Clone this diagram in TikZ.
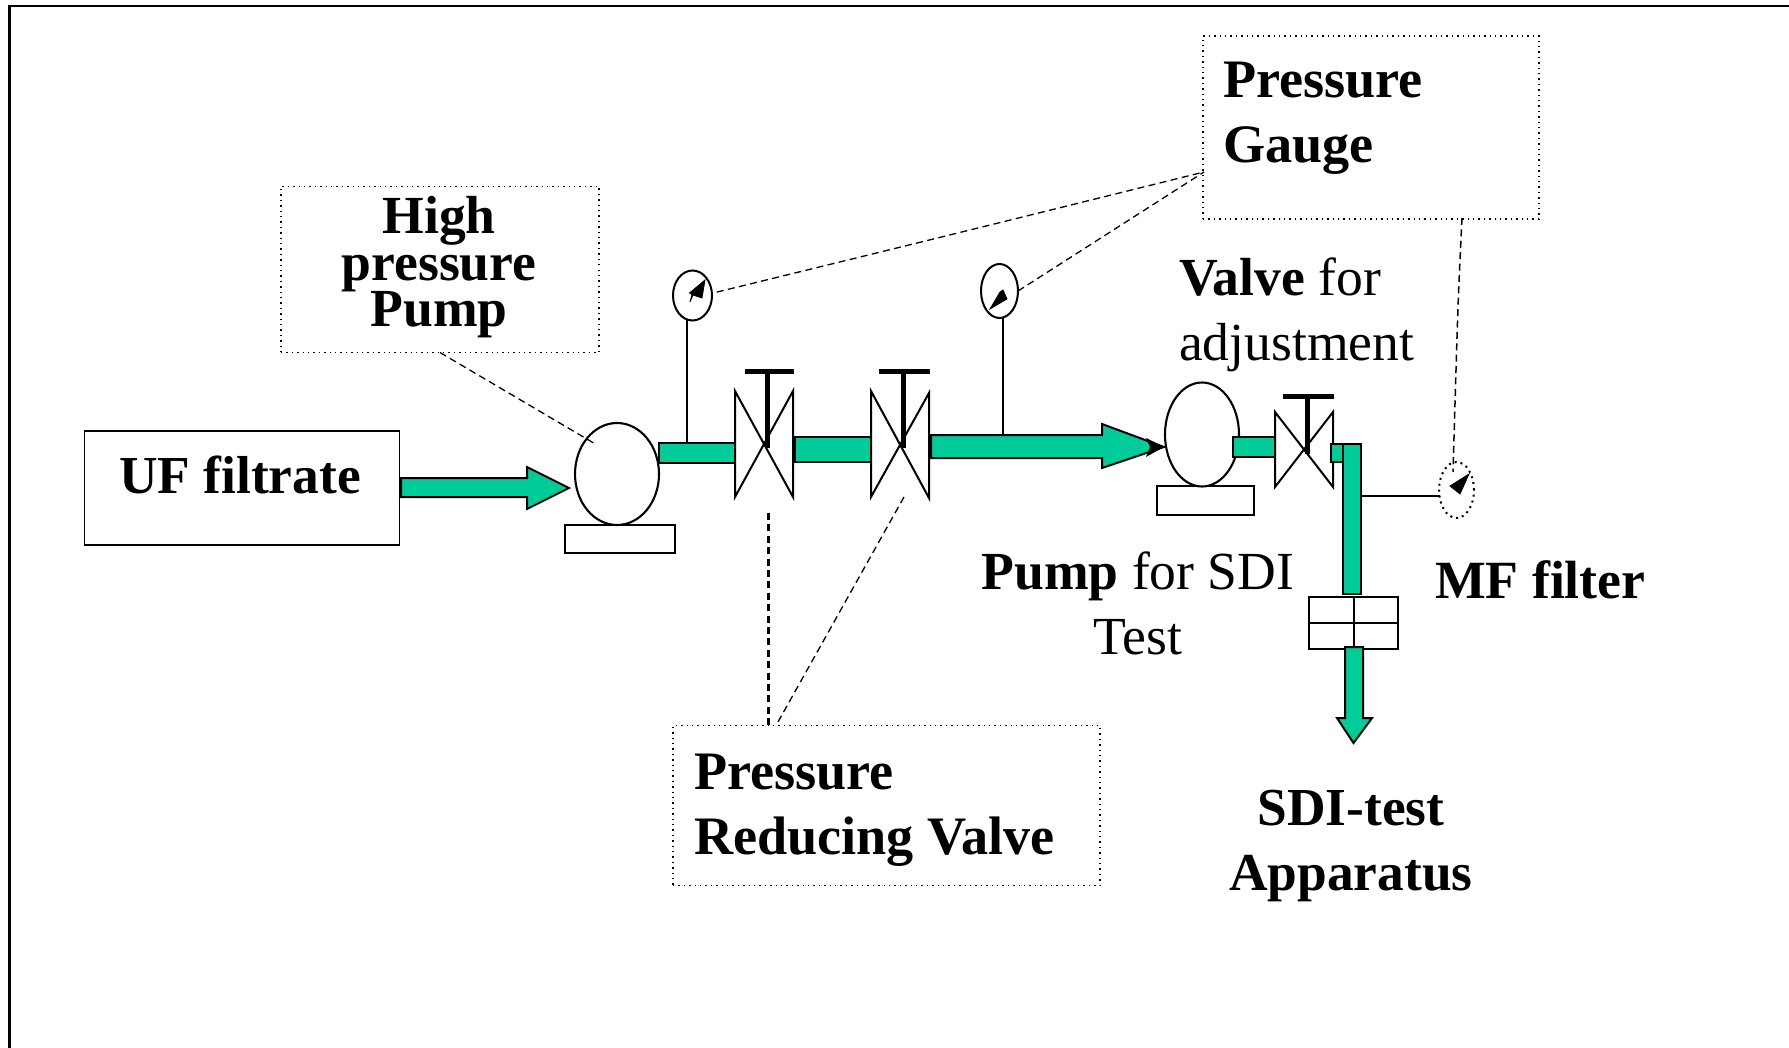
\documentclass[tikz,border=0pt]{standalone}
\usepackage{fontspec}
\setmainfont{Liberation Serif}
\usetikzlibrary{shapes.geometric}
\definecolor{flow}{HTML}{00CC99}
\tikzset{
  x=0.5pt,y=-0.5pt,
  every node/.style={inner sep=0pt,outer sep=0pt},
  ln/.style={line width=0.95pt,line join=miter},
  lbl/.style={font=\fontsize{26.8}{32.5}\selectfont},
  solidbox/.style={draw,line width=0.8pt,rectangle,lbl},
  dotbox/.style={draw,line width=0.7pt,dotted,rectangle,lbl},
  pipe/.style={draw,fill=flow,line width=1pt,rectangle},
  base/.style={draw,line width=1pt,fill=white,rectangle},
  pumpbody/.style={draw,line width=1.05pt,fill=white,ellipse},
  gauge/.style={draw,line width=1pt,fill=white,ellipse},
  gaugedot/.style={draw,line width=1pt,dotted,fill=white,ellipse},
  flowarrow/.style={draw,fill=flow,line width=1pt,line join=miter},
  leader/.style={line width=0.65pt,dash pattern=on 3.5pt off 2.2pt},
  leaderthick/.style={line width=1.5pt,dash pattern=on 3.5pt off 2.2pt},
  needle/.style={fill=black,draw,line width=0.4pt},
  valvebody/.style={draw,line width=1pt,fill=white},
  handle/.style={fill=black},
}
\begin{document}
\begin{tikzpicture}
\useasboundingbox (0,0) rectangle (1789,1048);
% outer frame
\fill[white] (0,0) rectangle (1789,1048);
\draw[line width=1.1pt] (9.5,1060) -- (9.5,6) -- (1800,6);

% label boxes
\node[solidbox,minimum width=157.5pt,minimum height=57pt,anchor=north west] (uf) at (84.5,431) {};
\node[anchor=base,font=\fontsize{26.7}{32.5}\selectfont\bfseries] (uftext) at (240,493) {UF filtrate};
\node[dotbox,minimum width=159pt,minimum height=83pt,anchor=north west] (hpbox) at (281,186.5) {};
\node[align=center,font=\fontsize{26.8}{23.4}\selectfont\bfseries,anchor=base] (hptext) at (439,327) {High\\pressure\\Pump};
\node[dotbox,minimum width=168pt,minimum height=91.5pt,anchor=north west] (pgbox) at (1203,36) {};
\node[align=left,font=\fontsize{27.1}{32.5}\selectfont\bfseries,anchor=base west] (pgtext) at (1223,163) {Pressure\\Gauge};
\node[dotbox,minimum width=213.5pt,minimum height=80pt,anchor=north west] (rvbox) at (673,725.5) {};
\node[align=left,font=\fontsize{27.1}{32.5}\selectfont\bfseries,anchor=base west] (rvtext) at (694,854) {Pressure\\Reducing Valve};

% free labels
\node[lbl,align=left,anchor=base west] (vtext) at (1179,361) {\textbf{Valve} for\\adjustment};
\node[lbl,align=center,anchor=base] (ptext) at (1138,654) {\textbf{Pump} for SDI\\Test};
\node[anchor=base west,font=\fontsize{26.9}{32.5}\selectfont\bfseries] (mftext) at (1435,598) {MF filter};
\node[align=center,anchor=base,font=\fontsize{26.7}{32.5}\selectfont\bfseries] (sditext) at (1351,890) {SDI-test\\Apparatus};

% feed arrow
\draw[flowarrow] (401,478) -- (527,478) -- (527,467) -- (569,488) -- (527,509) -- (527,497) -- (401,497) -- cycle;

% pump 1
\node[pipe,minimum width=39pt,minimum height=10pt,anchor=north west] (bar1) at (659,443) {};
\node[base,minimum width=55pt,minimum height=14pt,anchor=north west] (base1) at (565,525) {};
\node[pumpbody,minimum width=42pt,minimum height=51pt] (pump1) at (617,474) {};

% valve 1
\coordinate (v1nw) at (735,391); \coordinate (v1se) at (793,497);
\draw[valvebody] (v1nw) -- (v1se) -- (v1se |- v1nw) -- (v1nw |- v1se) -- cycle;
\node[handle,minimum width=2.5pt,minimum height=38.5pt,anchor=north] (t1s) at (767.5,371) {};
\node[handle,minimum width=24.5pt,minimum height=2.5pt,anchor=north] (t1b) at (769.5,369) {};

% bar 2
\node[pipe,minimum width=39pt,minimum height=12.5pt,anchor=north west] (bar2) at (795,437) {};

% valve 2
\coordinate (v2nw) at (871,391); \coordinate (v2se) at (929,498);
\draw[valvebody] (v2nw) -- (v2se) -- (929,393) -- (871,497) -- cycle;
\node[handle,minimum width=2.5pt,minimum height=38.5pt,anchor=north] (t2s) at (903.5,371) {};
\node[handle,minimum width=25.5pt,minimum height=2.5pt,anchor=north] (t2b) at (904.5,369) {};

% main arrow
\draw[flowarrow] (931,435) -- (1102,435) -- (1102,424) -- (1164,447) -- (1102,468) -- (1102,458) -- (931,458) -- cycle;
\fill (1146,438) -- (1164,447) -- (1146,457) -- (1150,447) -- cycle;

% pump 2
\node[base,minimum width=48.5pt,minimum height=14.5pt,anchor=north west] (base2) at (1157,486) {};
\node[pumpbody,minimum width=37pt,minimum height=52pt] (pump2) at (1202,434.5) {};
\node[pipe,minimum width=24.5pt,minimum height=10pt,anchor=north west] (bar4) at (1233,437) {};

% valve 3
\coordinate (v3nw) at (1275,412); \coordinate (v3se) at (1333,487);
\draw[valvebody] (v3nw) -- (v3se) -- (v3se |- v3nw) -- (v3nw |- v3se) -- cycle;
\node[handle,minimum width=2.5pt,minimum height=29pt,anchor=north] (t3s) at (1307,396) {};
\node[handle,minimum width=25.5pt,minimum height=2.5pt,anchor=north] (t3b) at (1308.5,394) {};

% filter
\node[draw,line width=1pt,minimum width=44.5pt,minimum height=26pt,anchor=north west] (filter) at (1309,597) {};
\draw[line width=1pt] (filter.west) -- (filter.east) (filter.north) -- (filter.south);

% vertical pipe
\node[pipe,minimum width=6pt,minimum height=9pt,anchor=north west] (bar5) at (1331,444) {};
\node[pipe,minimum width=9pt,minimum height=75pt,anchor=north west] (bar6) at (1343,444) {};

% outlet arrow
\draw[flowarrow] (1345,647) -- (1363,647) -- (1363,718) -- (1372,718) -- (1353.5,743) -- (1337,718) -- (1345,718) -- cycle;

% gauges
\node[gauge,minimum width=19.5pt,minimum height=25pt] (g1) at (692.5,295.5) {};
\draw[needle] (705,280) -- (702,298) -- (693,295) -- (690,302) -- (692,294.5) -- (689.5,293) -- cycle;
\draw[ln] (g1.257) -- (g1.257 |- bar1.north);

\node[gauge,minimum width=18.5pt,minimum height=27pt] (g2) at (999.5,291) {};
\draw[needle] (990,309) -- (1000,292) -- (1003,290) -- (1007,299) -- cycle;
\coordinate (mainpipe) at (1003,435);
\draw[ln] (g2.south -| mainpipe) -- (mainpipe);

\coordinate (g3stem) at (1439.5,496);
\node[gaugedot,minimum width=17.5pt,minimum height=28pt] (g3) at (1456.5,490) {};
\draw[needle] (1469,474) -- (1450,486) -- (1460,494) -- cycle;
\draw[ln] (bar6.east |- g3stem) -- (g3stem);

% leaders
\coordinate (hpend) at (597,445);
\draw[leader] (hpbox.south) -- (hpend);
\coordinate (pgin) at (1204,172);
\draw[leader] (g1.10) ++(5,0) .. controls (950,235) .. (pgin);
\draw[leader] (g2.east) -- (pgin);
\coordinate (g3top) at (1453,472);
\draw[leader,line width=0.75pt] (1462,218) .. controls (1458,300) .. (g3top);
\coordinate (rvthick) at (768,513);
\coordinate (rvthin) at (904,497);
\draw[leaderthick] (rvthick) -- (rvthick |- rvbox.north);
\draw[leader] (rvthin) -- (776,725.5);
\end{tikzpicture}
\end{document}
